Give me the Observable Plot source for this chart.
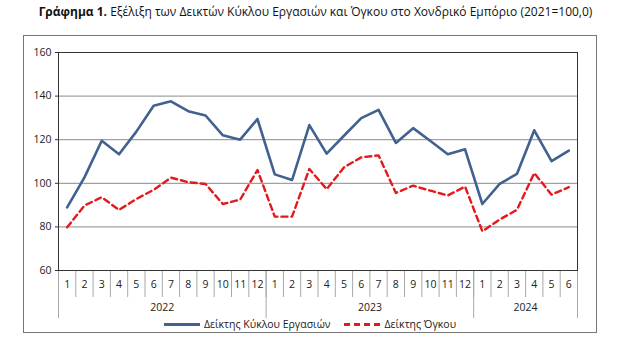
<!DOCTYPE html>
<html><head><meta charset="utf-8">
<script src="https://cdn.jsdelivr.net/npm/d3@7"></script>
<script src="https://cdn.jsdelivr.net/npm/@observablehq/plot@0.6"></script>
<style>
body{margin:0;background:#fff;font-family:"Open Sans",sans-serif;width:619px;height:344px;position:relative;overflow:hidden}
#title{position:absolute;top:3px;left:0;width:619px;text-align:center;font-size:12px;color:#111;white-space:nowrap;padding-left:12px;box-sizing:border-box}
#box{position:absolute;left:23px;top:35px;width:572px;height:296px;border:1px solid #777}
#legend{position:absolute;left:0;top:281px;width:572px;font-size:10.5px;color:#222;display:flex;justify-content:center;align-items:center}
.item{display:flex;align-items:center;margin:0 7px}
.sw{width:36px;height:0;margin-right:4px}
</style></head><body>
<div id="title"><b>Γράφημα 1.</b> Εξέλιξη των Δεικτών Κύκλου Εργασιών και Όγκου στο Χονδρικό Εμπόριο (2021=100,0)</div>
<div id="box"><div id="chart"></div>
<div id="legend">
<div class="item"><div class="sw" style="border-top:3px solid #41618f"></div>Δείκτης Κύκλου Εργασιών</div>
<div class="item"><div class="sw" style="border-top:3px dashed #e3191c"></div>Δείκτης Όγκου</div>
</div></div>
<script>
const monthLabels = [1,2,3,4,5,6,7,8,9,10,11,12,1,2,3,4,5,6,7,8,9,10,11,12,1,2,3,4,5,6];
const years = ["2022","2023","2024"];
const yearMonths = [12,12,6];
const turnover = [89.0,102.7,119.5,113.3,123.7,135.6,137.6,133.1,131.1,122.0,120.0,129.5,
                  104.1,101.5,126.7,113.6,121.8,129.9,133.7,118.5,125.3,119.4,113.3,115.6,
                  90.5,99.7,104.3,124.3,110.2,115.0];
const volume = [79.8,89.8,93.6,87.8,92.8,97.0,102.6,100.5,99.7,90.5,92.5,106.1,
                84.7,84.7,106.6,97.3,107.3,111.9,112.8,95.6,98.9,96.6,94.4,98.5,
                78.0,83.4,87.8,104.7,94.8,98.2];
const yTicks = [60,80,100,120,140,160];

const rows = monthLabels.map((m,i)=>({pos:i+0.5, month:m, turnover:turnover[i], volume:volume[i]}));
const bounds = d3.range(monthLabels.length+1);
let acc=0; const yearBounds=[0]; const yearCenters=[];
yearMonths.forEach(n=>{yearCenters.push(acc+n/2); acc+=n; yearBounds.push(acc);});
const yearByCenter = new Map(yearCenters.map((c,i)=>[c,years[i]]));
const monthByPos = new Map(rows.map(r=>[r.pos,String(r.month)]));
const yEnds = [yTicks[0], yTicks[yTicks.length-1]];
const xEnds = [0, monthLabels.length];

const chart = Plot.plot({
  width:572, height:284,
  marginLeft:34, marginRight:19, marginTop:16, marginBottom:50,
  style:{fontFamily:"'Open Sans',sans-serif", fontSize:"10.5px", color:"#222", background:"#fff"},
  x:{domain:xEnds, axis:null},
  y:{domain:yEnds, axis:null},
  marks:[
    Plot.gridY(yTicks.slice(1,-1), {stroke:"#8a8a8a", strokeOpacity:1, strokeWidth:1}),
    Plot.axisX(bounds, {tickSize:27, tickFormat:()=>"", stroke:"#a8a8a8", label:null}),
    Plot.axisX(yearBounds, {tickSize:48, tickFormat:()=>"", stroke:"#a8a8a8", label:null}),
    Plot.axisX(rows.map(r=>r.pos), {tickSize:0, tickPadding:10, tickFormat:d=>monthByPos.get(d), label:null, fontSize:10.5}),
    Plot.axisX(yearCenters, {tickSize:0, tickPadding:33, tickFormat:d=>yearByCenter.get(d), label:null, fontSize:10.5}),
    Plot.axisY(yTicks, {tickSize:3, tickPadding:4, stroke:"#333", label:null, fontSize:10.5}),
    Plot.line(rows, {x:"pos", y:"turnover", stroke:"#41618f", strokeWidth:2.6}),
    Plot.line(rows, {x:"pos", y:"volume", stroke:"#e3191c", strokeWidth:2.4, strokeDasharray:"6,4"}),
    Plot.ruleY(yEnds, {stroke:"#333", strokeWidth:1}),
    Plot.ruleX(xEnds, {stroke:"#333", strokeWidth:1}),
    Plot.frame({stroke:"#333", strokeWidth:1})
  ]
});
document.getElementById("chart").appendChild(chart);
</script></body></html>
